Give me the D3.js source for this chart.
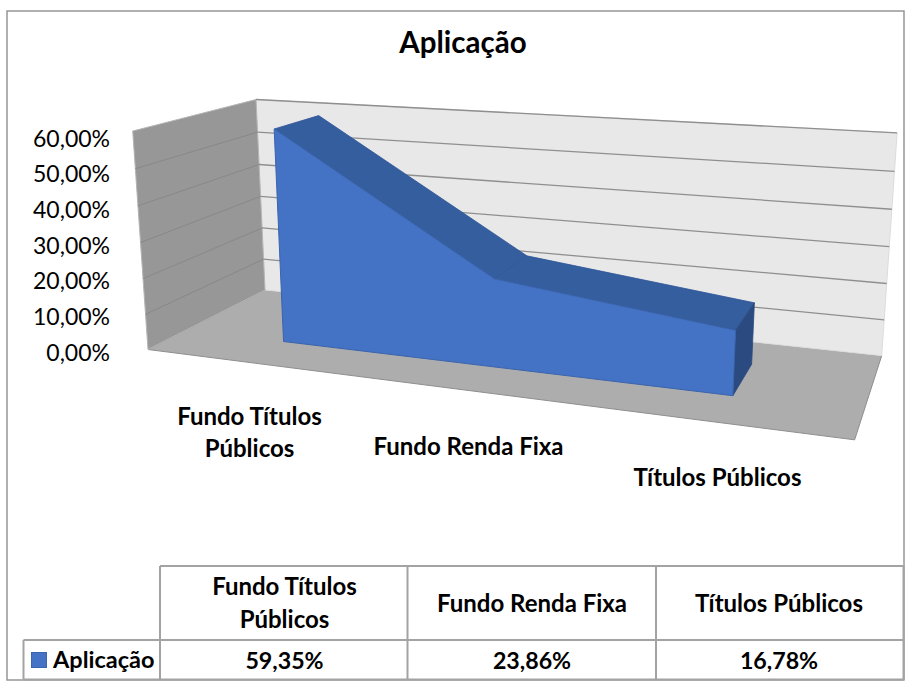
<!DOCTYPE html>
<html><head><meta charset="utf-8">
<script src="https://cdn.jsdelivr.net/npm/d3@7/dist/d3.min.js"></script>
<style>html,body{margin:0;padding:0;background:#fff}svg{display:block}text{font-family:Lato,"Open Sans",sans-serif;fill:#000}</style>
</head><body><svg id="c" width="907" height="688"></svg>
<script>
const title = "Aplicação";
const seriesName = "Aplicação";
const categories = ["Fundo Títulos Públicos","Fundo Renda Fixa","Títulos Públicos"];
const values = [59.35,23.86,16.78];
const valueLabels = ["59,35%","23,86%","16,78%"];
const ticks = [0,10,20,30,40,50,60];
const axisLabelLines = [["Fundo Títulos","Públicos"],["Fundo Renda Fixa"],["Títulos Públicos"]];

const svg = d3.select("#c");
// frame of the 3D box: origin (back floor left) and the three axis ends, with projective weights
const O=[265,290], EX=[881.7,355.7], EY=[256,99.5], EZ=[148,349.5];
const wx=.85, wy=.9655, wz=.867;
function proj(x,y,z){
  const d=1+(wx-1)*x+(wy-1)*y+(wz-1)*z;
  return [0,1].map(i=>(O[i]+x*(wx*EX[i]-O[i])+y*(wy*EY[i]-O[i])+z*(wz*EZ[i]-O[i]))/d);
}
const xS=d3.scalePoint().domain(categories).range([0,1]).padding(.5);
const yS=d3.scaleLinear().domain([0,60]).range([0,1]);
const zBand=[.3,.7];
const line=d3.line();
function poly(pts,fill,stroke,sw){return svg.append("path").attr("d",line(pts)+"Z").attr("fill",fill).attr("stroke",stroke||"none").attr("stroke-width",sw||0).attr("stroke-linejoin","round");}

svg.append("rect").attr("x",7).attr("y",11).attr("width",897).attr("height",669).attr("fill","#fff").attr("stroke","#8f8f8f").attr("stroke-width",1.4);

svg.append("text").attr("x",463).attr("y",53).attr("text-anchor","middle").attr("font-size",29.5).attr("font-weight",700).text(title);

// walls
poly([proj(0,0,0),proj(1,0,0),proj(1,0,1),proj(0,0,1)],"#adadad","#8e8e8e",1);
poly([proj(0,0,0),proj(1,0,0),proj(1,1,0),proj(0,1,0)],"#e8e8e8","#dcdcdc",1);
poly([proj(0,0,0),proj(0,1,0),proj(0,1,1),proj(0,0,1)],"#979797","#b5b5b5",1);
// grid
ticks.forEach(t=>{
  const y=yS(t);
  if(t>0){
    svg.append("path").attr("d",line([proj(0,y,0),proj(1,y,0)])).attr("stroke","#8f8f8f").attr("stroke-width",1.3).attr("fill","none");
    if(t<60) svg.append("path").attr("d",line([proj(0,y,0),proj(0,y,1)])).attr("stroke","#888888").attr("stroke-width",1).attr("fill","none");
  }
});
// tick labels
const tickY=d3.scaleLinear().domain([0,60]).range([352,138]);
svg.append("g").selectAll("text").data(ticks).join("text")
  .attr("x",110).attr("y",t=>tickY(t)+8.5)
  .attr("text-anchor","end").attr("font-size",23).text(t=>d3.format(".2f")(t).replace(".",",")+"%");

// area solid
const front=categories.map((c,i)=>proj(xS(c),yS(values[i]),zBand[1]));
const back=categories.map((c,i)=>proj(xS(c),yS(values[i]),zBand[0]));
const n=categories.length;
const xL=xS(categories[0]), xR=xS(categories[n-1]);
for(let i=0;i<n-1;i++) poly([front[i],front[i+1],back[i+1],back[i]],"#355e9f","#2f5597",.8);
poly([front[n-1],back[n-1],proj(xR,0,zBand[0]),proj(xR,0,zBand[1])],"#2a4a80","#2a4a80",.8);
poly([...front,proj(xR,0,zBand[1]),proj(xL,0,zBand[1])],"#4472c4","#3a64ad",1);

// category labels on the floor front
const catAnchorX=[249.5,468.5,717.5], catAnchorY=[425,455,486];
axisLabelLines.forEach((ls,i)=>{
  ls.forEach((s,j)=>svg.append("text").attr("x",catAnchorX[i]).attr("y",catAnchorY[i]+j*31.5).attr("text-anchor","middle").attr("font-size",24).attr("font-weight",700).text(s));
});

// data table
const colX=[160,407.5,656,903.5], rowY=[566,640,679.5], left=23.5;
const tb=svg.append("g").attr("stroke","#a3a3a3").attr("stroke-width",2).attr("fill","none");
colX.forEach(x=>tb.append("line").attr("x1",x).attr("x2",x).attr("y1",rowY[0]).attr("y2",rowY[2]));
tb.append("line").attr("x1",160).attr("x2",903.5).attr("y1",rowY[0]).attr("y2",rowY[0]);
tb.append("line").attr("x1",left).attr("x2",903.5).attr("y1",rowY[1]).attr("y2",rowY[1]);
tb.append("line").attr("x1",left).attr("x2",903.5).attr("y1",rowY[2]).attr("y2",rowY[2]);
tb.append("line").attr("x1",left).attr("x2",left).attr("y1",rowY[1]).attr("y2",rowY[2]);
svg.append("rect").attr("x",31.5).attr("y",652.5).attr("width",15).attr("height",15).attr("fill","#4472c4").attr("stroke","#3a64ad");
svg.append("text").attr("x",53).attr("y",668).attr("font-size",23.5).attr("font-weight",700).text(seriesName);
axisLabelLines.forEach((ls,i)=>{
  const cx=[284.5,532,779][i];
  const y0=ls.length>1?595:612;
  ls.forEach((s,j)=>svg.append("text").attr("x",cx).attr("y",y0+j*33).attr("text-anchor","middle").attr("font-size",24).attr("font-weight",700).text(s));
  svg.append("text").attr("x",cx).attr("y",669).attr("text-anchor","middle").attr("font-size",23.2).attr("font-weight",700).text(valueLabels[i]);
});
</script></body></html>
